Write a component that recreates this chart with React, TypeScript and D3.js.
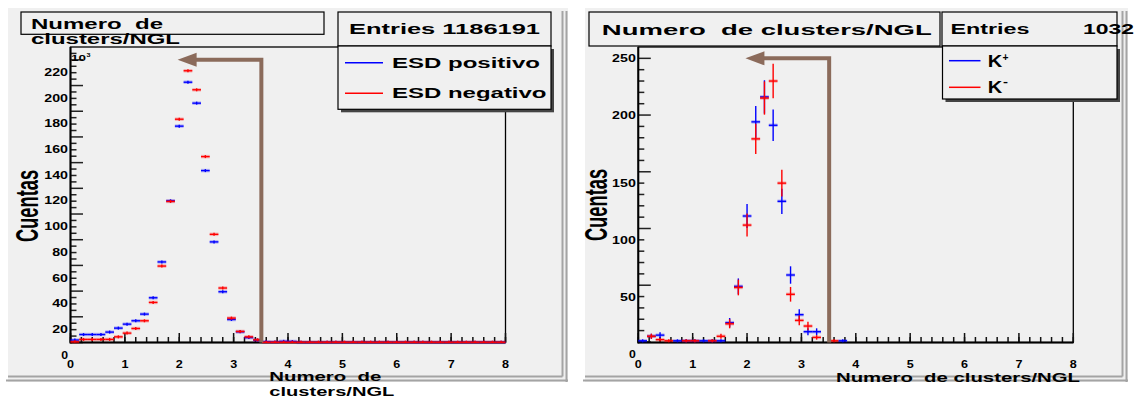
import * as d3 from "d3";
import React from "react";

const FONT = "'Liberation Sans', Arial, Helvetica, sans-serif";
const PAD_BG = "#f0f0f0";
const ARROW = "#8b6b5b";

// both histograms: 50 bins over [0, 8]
const X_MIN = 0;
const X_MAX = 8;
const N_BINS = 50;

// left pad, counts in units of 10^3
const esdPositivo = [
  1.9, 6.2, 6.2, 6.2, 8.1, 11.2, 14.3, 16.9, 22.1, 34.8,
  62.7, 110.3, 168.4, 202.6, 186.3, 133.8, 78.3, 39.5, 17.9, 8.3,
  3.8, 1.8, 0.6, 0.3, 0.9, 0.8, 0.1, 0.1, 0.1, 0.1,
  0.1, 0.1, 0.1, 0.1, 0.1, 0.1, 0.1, 0.1, 0.1, 0.1,
  0.1, 0.1, 0.1, 0.1, 0.1, 0.1, 0.1, 0.1, 0.1, 0.1,
];
const esdNegativo = [
  0.5, 2.4, 2.4, 2.4, 2.4, 4.4, 7.3, 10.9, 16.9, 31.2,
  59.5, 109.8, 173.8, 211.5, 196.7, 144.7, 84.2, 42.4, 19.0, 8.6,
  4.4, 2.1, 0.2, 0.2, 0.2, 0.2, 0.2, 0.2, 0.2, 0.2,
  0.2, 0.2, 0.2, 0.2, 0.2, 0.2, 0.2, 0.2, 0.2, 0.2,
  0.2, 0.2, 0.2, 0.2, 0.2, 0.2, 0.2, 0.2, 0.2, 0.2,
];

// right pad, raw counts of the first 24 bins (the others are empty)
const kaonPlus = [1, 5, 6, 0, 1, 1, 1, 1, 1, 1, 17, 49, 111, 194, 216, 191, 124, 59, 24, 9, 9, 0, 0, 1];
const kaonMinus = [0, 5, 2, 1, 0, 1, 1, 0, 1, 5, 16, 48, 103, 179, 215, 230, 140, 42, 19, 14, 4, 0, 1, 0];

const xTickLabels = ["0", "1", "2", "3", "4", "5", "6", "7", "8"];
const esdYLabels = [0, 20, 40, 60, 80, 100, 120, 140, 160, 180, 200, 220];
const kaonYLabels = [0, 50, 100, 150, 200, 250];

// brown arrow: vertical at x, turning left at "top", head tip at "tip"
const esdArrow = { x: 3.51, top: 220, tip: 1.97 };
const kaonArrow = { x: 3.51, top: 250, tip: 1.97 };

function Txt({ x, y, w, size, anchor = "start", fill = "#000", children }: any) {
  return (
    <text
      x={x}
      y={y}
      fontSize={size}
      fontWeight={700}
      fontFamily={FONT}
      textAnchor={anchor}
      fill={fill}
      textLength={w}
      lengthAdjust="spacingAndGlyphs"
      style={{ whiteSpace: "pre" }}
    >
      {children}
    </text>
  );
}

// two stacked lines in one text element
function Txt2({ x, y1, y2, w1, w2, size, l1, l2 }: any) {
  return (
    <text fontSize={size} fontWeight={700} fontFamily={FONT} style={{ whiteSpace: "pre" }}>
      <tspan x={x} y={y1} textLength={w1} lengthAdjust="spacingAndGlyphs">{l1}</tspan>
      <tspan x={x} y={y2} textLength={w2} lengthAdjust="spacingAndGlyphs">{l2}</tspan>
    </text>
  );
}

function Box({ x, y, w, h, shadow = false }: any) {
  return (
    <g>
      {shadow && <rect x={x + 3} y={y + 3} width={w} height={h} fill="#444" />}
      <rect x={x} y={y} width={w} height={h} fill={PAD_BG} stroke="#000" strokeWidth={1.2} />
    </g>
  );
}

function Panel({ pad, frame, yDomain, yMajor, yMinor, yLabels, labelShift, series, arrow, children }: any) {
  const x = d3.scaleLinear().domain([X_MIN, X_MAX]).range([frame.x0, frame.x1]);
  const y = d3.scaleLinear().domain(yDomain).range([frame.y1, frame.y0]);
  const bw = (X_MAX - X_MIN) / N_BINS;

  const xMinorTicks = d3.range(X_MIN, X_MAX + 1e-9, 0.2);
  const xMajorTicks = d3.range(X_MIN, X_MAX + 1e-9, 1);
  const yTicks = d3.range(0, yDomain[1], yMinor);

  const marks = series.map((s: any, si: number) =>
    s.values.map((v: number, i: number) => {
      if (s.skipEmpty && v === 0) return null;
      const xa = x(X_MIN + i * bw);
      const xb = x(X_MIN + (i + 1) * bw);
      const xc = (xa + xb) / 2;
      const yc = Math.min(y(v), frame.y1);
      const e = s.error(v);
      const top = Math.min(y(v + e), yc - 1.5);
      const bot = Math.min(Math.max(y(v - e), yc + 1.5), frame.y1);
      return (
        <g key={`${si}-${i}`}>
          <line x1={xa} x2={xb} y1={yc} y2={yc} stroke={s.color} strokeWidth={3.5} opacity={0.25} />
          <line x1={xa} x2={xb} y1={yc} y2={yc} stroke={s.color} strokeWidth={1.4} />
          <line x1={xc} x2={xc} y1={top} y2={bot} stroke={s.color} strokeWidth={1.4} />
        </g>
      );
    })
  );

  const ax = x(arrow.x);
  const ay = y(arrow.top);
  const tipX = x(arrow.tip);

  return (
    <g>
      <rect x={pad.x0} y={pad.y0} width={pad.x1 - pad.x0} height={pad.y1 - pad.y0} fill={PAD_BG} />
      <line x1={pad.x1 - 5.5} x2={pad.x1 - 5.5} y1={pad.y0 + 3} y2={pad.y1 - 5.5} stroke="#a4a4a4" strokeWidth={2} />
      <line x1={pad.x1 - 1.5} x2={pad.x1 - 1.5} y1={pad.y0 + 3} y2={pad.y1} stroke="#a4a4a4" strokeWidth={2} />
      <line x1={pad.x0} x2={pad.x1 - 5.5} y1={pad.y1 - 5.5} y2={pad.y1 - 5.5} stroke="#a4a4a4" strokeWidth={2} />
      <line x1={pad.x0 - 2} x2={pad.x1} y1={pad.y1 - 1.5} y2={pad.y1 - 1.5} stroke="#a4a4a4" strokeWidth={2} />

      {/* frame */}
      <rect x={frame.x0} y={frame.y0} width={frame.x1 - frame.x0} height={frame.y1 - frame.y0} fill="none" stroke="#000" strokeWidth={1.3} />

      {/* x ticks */}
      {xMinorTicks.map((t) => (
        <line key={`xm${t}`} x1={x(t)} x2={x(t)} y1={frame.y1} y2={frame.y1 - 5.5} stroke="#111" strokeWidth={1.5} />
      ))}
      {xMajorTicks.map((t) => (
        <line key={`xM${t}`} x1={x(t)} x2={x(t)} y1={frame.y1} y2={frame.y1 - 9.5} stroke="#111" strokeWidth={1.5} />
      ))}
      {/* y ticks */}
      {yTicks.map((t) => {
        const major = Math.abs(t / yMajor - Math.round(t / yMajor)) < 1e-6;
        return (
          <line key={`y${t}`} x1={frame.x0} x2={frame.x0 + (major ? 12.5 : 6)} y1={y(t)} y2={y(t)} stroke="#222" strokeWidth={1.5} />
        );
      })}

      {/* axis lines */}
      <line x1={frame.x0} x2={frame.x0} y1={frame.y0} y2={frame.y1 + 1} stroke="#000" strokeWidth={2} />
      <line x1={frame.x0} x2={frame.x1} y1={frame.y1} y2={frame.y1} stroke="#000" strokeWidth={2} />

      {marks}

      {/* arrow */}
      <path d={`M${ax},${frame.y1} V${ay} H${tipX + 17}`} fill="none" stroke={ARROW} strokeWidth={4} />
      <path d={`M${tipX},${ay} L${tipX + 19},${ay - 7} L${tipX + 19},${ay + 7} Z`} fill={ARROW} />

      {/* tick labels */}
      {xTickLabels.map((l, i) => (
        <Txt key={`xl${l}`} x={x(xMajorTicks[i])} y={367.5} w={7} size={11.5} anchor="middle">
          {l}
        </Txt>
      ))}
      {yLabels.map((v: number) => {
        const s = String(v);
        return (
          <Txt key={`yl${v}`} x={frame.x0 - 2.5} y={y(v) + labelShift(v) + 3.6} w={s.length === 1 ? 6.8 : 7.9 * s.length} size={10} anchor="end">
            {s}
          </Txt>
        );
      })}

      {children}
    </g>
  );
}

export default function App() {
  const esdSeries = [
    { values: esdPositivo, color: "#0000ff", error: (v: number) => Math.sqrt(v * 1000) / 1000, skipEmpty: false },
    { values: esdNegativo, color: "#ff0000", error: (v: number) => Math.sqrt(v * 1000) / 1000, skipEmpty: false },
  ];
  const kaonSeries = [
    { values: kaonPlus, color: "#0000ff", error: (v: number) => Math.sqrt(v), skipEmpty: true },
    { values: kaonMinus, color: "#ff0000", error: (v: number) => Math.sqrt(v), skipEmpty: true },
  ];

  return (
    <div style={{ position: "absolute", left: 0, top: 0 }}>
      <svg width={1137} height={399} style={{ display: "block", background: "#fff" }}>
        <Panel
          pad={{ x0: 8, y0: 8, x1: 568, y1: 382 }}
          frame={{ x0: 70.5, x1: 505.5, y0: 47, y1: 342.5 }}
          yDomain={[0, 230]}
          yMajor={20}
          yMinor={5}
          yLabels={esdYLabels}
          labelShift={() => 12.5}
          series={esdSeries}
          arrow={esdArrow}
        >
          <Txt x={71} y={61} w={15} size={9.5}>10</Txt>
          <Txt x={86.5} y={57} w={4} size={6}>3</Txt>

          <Box x={21} y={12} w={303} h={22.3} />
          <Txt2 x={31} y1={28.5} y2={43.5} w1={132} w2={149} size={14} l1="Numero  de" l2="clusters/NGL" />

          <Box x={338} y={12} w={213} h={34} />
          <Txt x={349} y={34.3} w={191} size={15}>Entries 1186191</Txt>

          <Box x={338} y={46} w={213} h={63.3} shadow />
          <line x1={345} x2={383} y1={62.7} y2={62.7} stroke="#0000ff" strokeWidth={1.5} />
          <Txt x={392} y={67.6} w={148} size={14.5}>ESD positivo</Txt>
          <line x1={345} x2={383} y1={93.3} y2={93.3} stroke="#ff0000" strokeWidth={1.5} />
          <Txt x={392} y={97.8} w={154.5} size={14.5}>ESD negativo</Txt>

          <g transform="translate(38.3,206) scale(1.75,1) rotate(-90)">
            <text x={0} y={0} fontSize={18.3} fontWeight={700} fontFamily={FONT} textAnchor="middle">Cuentas</text>
          </g>
          <Txt2 x={269.3} y1={380.6} y2={396.2} w1={112} w2={125} size={13} l1="Numero  de" l2="clusters/NGL" />
        </Panel>

        <Panel
          pad={{ x0: 585, y0: 8, x1: 1128, y1: 382 }}
          frame={{ x0: 638.3, x1: 1073.3, y0: 47, y1: 342.5 }}
          yDomain={[-0.5, 260]}
          yMajor={50}
          yMinor={10}
          yLabels={kaonYLabels}
          labelShift={(v: number) => (v < 200 ? 12 : 0)}
          series={kaonSeries}
          arrow={kaonArrow}
        >
          <Box x={589} y={12} w={351} h={34} />
          <Txt x={601.8} y={35} w={330} size={15}>Numero  de clusters/NGL</Txt>

          <Box x={942} y={12} w={175} h={34} />
          <Txt x={950.5} y={34.3} w={79} size={14}>Entries</Txt>
          <Txt x={1134} y={34.3} w={51} size={14} anchor="end">1032</Txt>

          <Box x={942.5} y={46} w={174.5} h={53} shadow />
          <line x1={949} x2={980.5} y1={60.7} y2={60.7} stroke="#0000ff" strokeWidth={1.5} />
          <Txt x={987.7} y={66.7} w={14.5} size={16}>K</Txt>
          <Txt x={1002.5} y={60.5} w={6} size={10}>+</Txt>
          <line x1={949} x2={980.5} y1={87.3} y2={87.3} stroke="#ff0000" strokeWidth={1.5} />
          <Txt x={987.7} y={93} w={14.5} size={16}>K</Txt>
          <Txt x={1003} y={84.5} w={5} size={10}>-</Txt>

          <g transform="translate(607.3,205) scale(1.75,1) rotate(-90)">
            <text x={0} y={0} fontSize={18.3} fontWeight={700} fontFamily={FONT} textAnchor="middle">Cuentas</text>
          </g>
          <Txt x={836} y={381.7} w={244} size={13.5}>Numero  de clusters/NGL</Txt>
        </Panel>
      </svg>
    </div>
  );
}
